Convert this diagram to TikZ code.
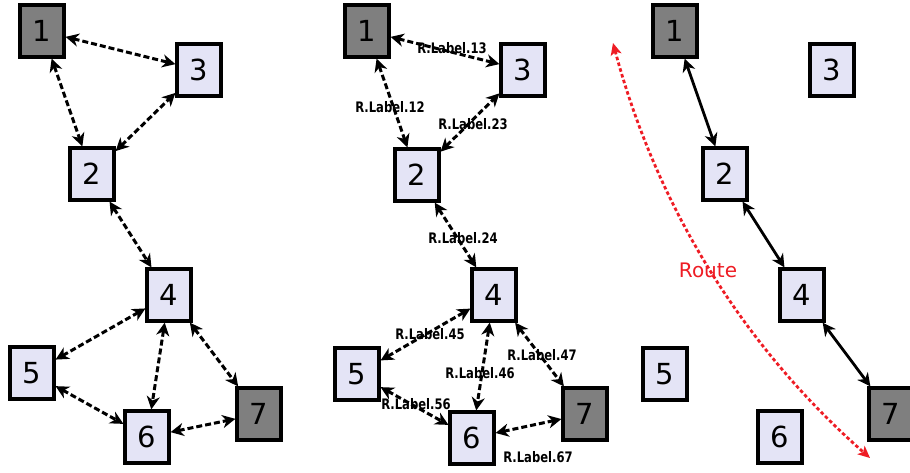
\documentclass[tikz,border=0pt]{standalone}
\usepackage{fontspec}
\setmainfont{DejaVu Sans}
\newfontfamily\lblfont[FakeStretch=0.8]{DejaVu Sans}
\usetikzlibrary{arrows.meta}
\definecolor{lightfill}{HTML}{E4E4F6}
\definecolor{darkfill}{HTML}{7F7F7F}
\definecolor{routered}{HTML}{EE1C24}
\begin{document}
\begin{tikzpicture}[x=1pt,y=-1pt,
  box/.style={draw=black, line width=3.2pt, minimum width=44pt, minimum height=52pt, inner sep=0pt, font=\fontsize{29}{30}\selectfont},
  lt/.style={box, fill=lightfill},
  dk/.style={box, fill=darkfill},
  dlink/.style={line width=3pt, dash pattern=on 6pt off 3pt, arrows={Stealth[length=13pt,width=13pt,inset=4pt]-Stealth[length=13pt,width=13pt,inset=4pt]}},
  slink/.style={line width=2.8pt, arrows={Stealth[length=13pt,width=13pt,inset=4pt]-Stealth[length=13pt,width=13pt,inset=4pt]}},
  rlink/.style={routered, line width=2.8pt, dash pattern=on 3.5pt off 2.5pt, arrows={Stealth[length=12pt,width=11pt,inset=3pt]-Stealth[length=12pt,width=11pt,inset=3pt]}},
  lbl/.style={font=\lblfont\bfseries\fontsize{14.5}{15}\selectfont, inner sep=0pt}
]
\useasboundingbox (0,0) rectangle (910,472);
% left panel
\node[dk] (a1) at (42,31) {1};
\node[lt] (a3) at (199,70) {3};
\node[lt] (a2) at (92,174) {2};
\node[lt] (a4) at (169,295) {4};
\node[lt] (a5) at (32,373) {5};
\node[lt] (a6) at (147,437) {6};
\node[dk] (a7) at (259,414) {7};
\draw[dlink] (a1) -- (a3);
\draw[dlink] (a1) -- (a2);
\draw[dlink] (a2) -- (a3);
\draw[dlink] (a2) -- (a4);
\draw[dlink] (a4) -- (a5);
\draw[dlink] (a4) -- (a6);
\draw[dlink] (a4) -- (a7);
\draw[dlink] (a5) -- (a6);
\draw[dlink] (a6) -- (a7);
% middle panel
\node[dk] (b1) at (367,31) {1};
\node[lt] (b3) at (523,70) {3};
\node[lt] (b2) at (417,175) {2};
\node[lt] (b4) at (494,295) {4};
\node[lt] (b5) at (357,374) {5};
\node[lt] (b6) at (472,438) {6};
\node[dk] (b7) at (585,414) {7};
\draw[dlink] (b1) -- (b3);
\draw[dlink] (b1) -- (b2);
\draw[dlink] (b2) -- (b3);
\draw[dlink] (b2) -- (b4);
\draw[dlink] (b4) -- (b5);
\draw[dlink] (b4) -- (b6);
\draw[dlink] (b4) -- (b7);
\draw[dlink] (b5) -- (b6);
\draw[dlink] (b6) -- (b7);
\node[lbl] (l13) at (452,48) {R.Label.13};
\node[lbl] (l12) at (390,107) {R.Label.12};
\node[lbl] (l23) at (473,124) {R.Label.23};
\node[lbl] (l24) at (463,238) {R.Label.24};
\node[lbl] (l45) at (430,334) {R.Label.45};
\node[lbl] (l46) at (480,373) {R.Label.46};
\node[lbl] (l47) at (542,355) {R.Label.47};
\node[lbl] (l56) at (416,404) {R.Label.56};
\node[lbl] (l67) at (538,457) {R.Label.67};
% right panel
\node[dk] (c1) at (675,31) {1};
\node[lt] (c3) at (832,70) {3};
\node[lt] (c2) at (725,174) {2};
\node[lt] (c4) at (802,295) {4};
\node[lt] (c5) at (665,374) {5};
\node[lt] (c6) at (780,437) {6};
\node[dk] (c7) at (891,414) {7};
\draw[slink] (c1) -- (c2);
\draw[slink] (c2) -- (c4);
\draw[slink] (c4) -- (c7);
\coordinate (rs) at (613,43);
\coordinate (re) at (870,458);
\draw[rlink] (rs) .. controls (657,207) and (743,346) .. (re);
\node[text=routered, font=\fontsize{20}{22}\selectfont, inner sep=0pt] (route) at (708,270) {Route};
\end{tikzpicture}
\end{document}
